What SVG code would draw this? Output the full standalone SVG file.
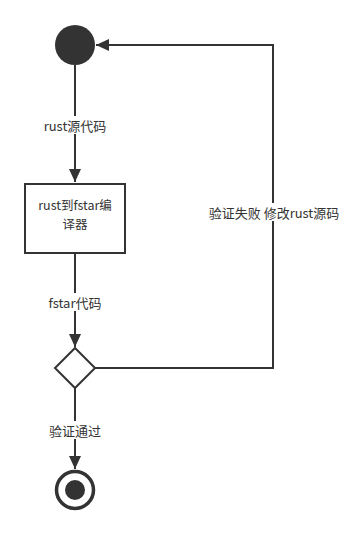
<svg xmlns="http://www.w3.org/2000/svg" width="355" height="535" viewBox="0 0 355 535">
  <style>
    .ln { fill: none; stroke: #333333; stroke-width: 2; }
    .lbl { font-family: "Noto Sans CJK SC", "Liberation Sans", sans-serif; font-size: 13px; fill: #333333; text-anchor: middle; dominant-baseline: central; }
    .box { font-size: 12.5px; }
    .bg { fill: #ffffff; }
  </style>
  <defs>
    <marker id="arr" markerUnits="userSpaceOnUse" markerWidth="14" markerHeight="12" viewBox="0 0 14 12" refX="13" refY="6" orient="auto">
      <path d="M0,0 L13,6 L0,12 Z" fill="#333333"/>
    </marker>
  </defs>
  <rect width="355" height="535" fill="#ffffff"/>
  <g id="connectors">
    <path class="ln" d="M75,65 L75,182" marker-end="url(#arr)"/>
    <path class="ln" d="M75,254 L75,347" marker-end="url(#arr)"/>
    <path class="ln" d="M75,388 L75,469" marker-end="url(#arr)"/>
    <path class="ln" d="M95,368 L273,368 L273,45 L96,45" marker-end="url(#arr)"/>
    <rect class="bg" x="41" y="116" width="68" height="18"/>
    <text class="lbl" x="75" y="125">rust源代码</text>
    <rect class="bg" x="45" y="293" width="60" height="18"/>
    <text class="lbl" x="75" y="302">fstar代码</text>
    <rect class="bg" x="47" y="421" width="56" height="18"/>
    <text class="lbl" x="75" y="430">验证通过</text>
    <rect class="bg" x="205" y="203" width="138" height="18"/>
    <text class="lbl" x="274" y="212">验证失败 修改rust源码</text>
  </g>
  <g id="start">
    <circle cx="75" cy="45" r="20" fill="#333333"/>
  </g>
  <g id="compiler">
    <rect x="25" y="184" width="100" height="69" fill="#ffffff" stroke="#333333" stroke-width="2"/>
    <text class="lbl box" x="75" y="204">rust到fstar编</text>
    <text class="lbl box" x="75" y="223">译器</text>
  </g>
  <g id="decision">
    <path d="M75,348 L95,368 L75,388 L55,368 Z" fill="#ffffff" stroke="#333333" stroke-width="2"/>
  </g>
  <g id="end">
    <circle cx="75" cy="490" r="18.5" fill="#ffffff" stroke="#333333" stroke-width="3.5"/>
    <circle cx="75" cy="490" r="10" fill="#333333"/>
  </g>
</svg>
